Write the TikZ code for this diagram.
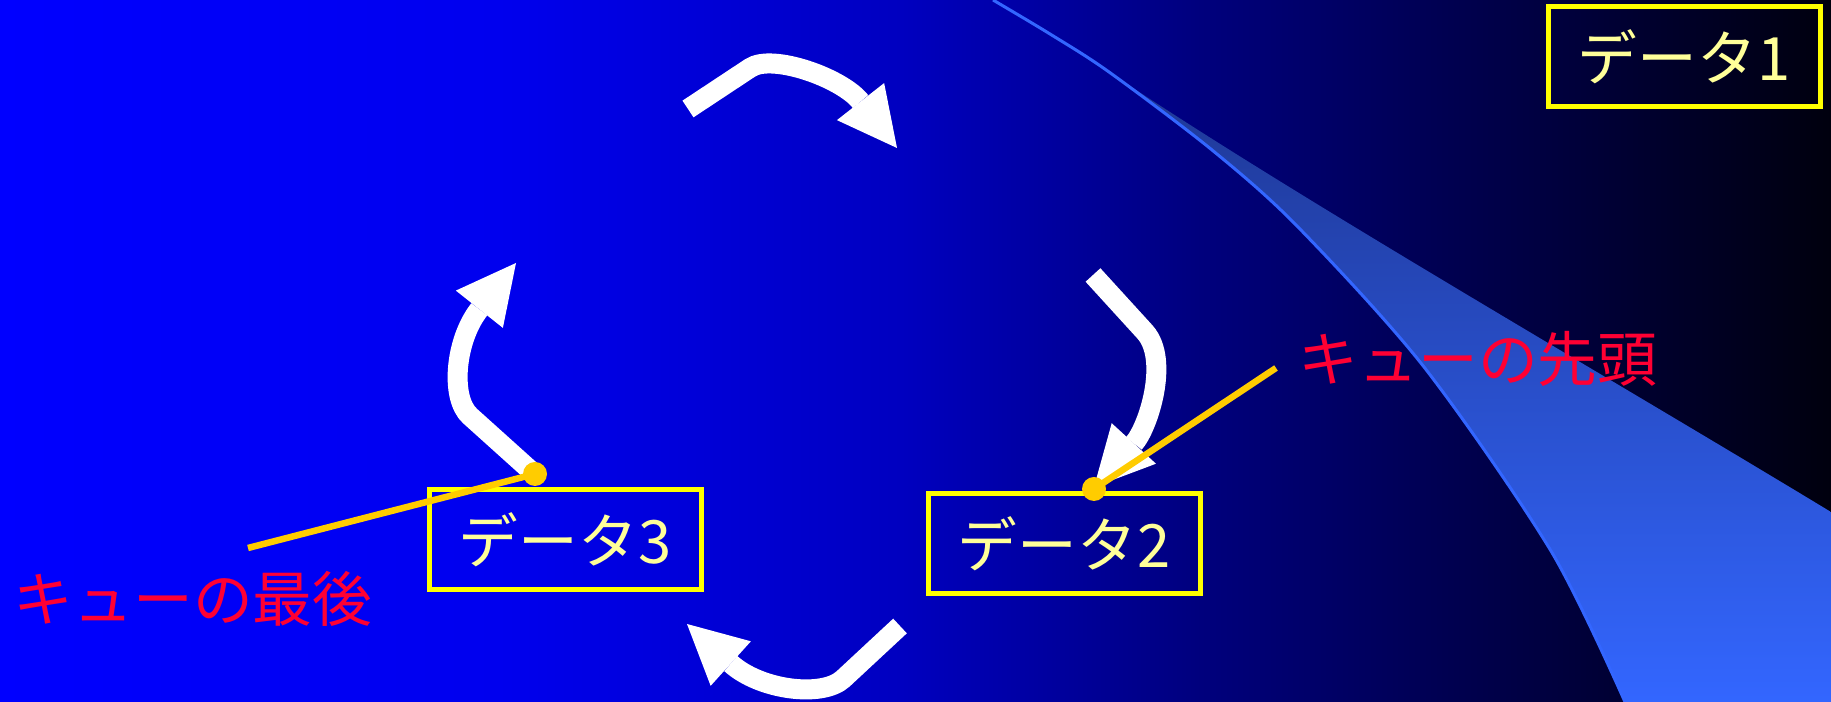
\documentclass[tikz,border=0pt]{standalone}
\usepackage{fontspec}
\newfontfamily\jpfont{Noto Sans CJK JP}
\usepackage{xcolor}
\usepackage{tikz}
\usetikzlibrary{arrows.meta}
\definecolor{boxyellow}{RGB}{255,255,0}
\definecolor{paleyellow}{RGB}{255,255,153}
\definecolor{alertred}{RGB}{255,0,51}
\definecolor{pinorange}{RGB}{255,204,0}
\definecolor{swooshblue}{RGB}{51,102,255}
\definecolor{swooshdark}{RGB}{28,50,136}
\definecolor{bga}{RGB}{0,0,255}
\definecolor{bgb}{RGB}{0,0,238}
\definecolor{bgc}{RGB}{0,0,192}
\definecolor{bgd}{RGB}{0,0,125}
\definecolor{bge}{RGB}{0,0,80}
\definecolor{bgf}{RGB}{0,0,14}
\pgfdeclarehorizontalshading{bgfade}{100bp}{color(0bp)=(bga); color(25bp)=(bga); color(38.6bp)=(bgb); color(49.6bp)=(bgc); color(57.8bp)=(bgd); color(64.6bp)=(bge); color(75bp)=(bgf); color(100bp)=(bgf)}

\begin{document}
\begin{tikzpicture}[x=0.1mm,y=-0.1mm,
    databox/.style={rectangle,draw=boxyellow,line width=0.5mm,minimum width=27.2mm,minimum height=10mm,inner sep=0pt,text=paleyellow,font=\jpfont\fontsize{17}{20}\selectfont},
    note/.style={inner sep=0pt,text=alertred,font=\jpfont\fontsize{17}{20}\selectfont},
    cyclearrow/.style={white,line width=2mm,-{Triangle[length=5.9mm,width=6mm,line width=0pt]}},
    pointer/.style={pinorange,line width=0.65mm},
    pin/.style={circle,fill=pinorange,inner sep=0pt,minimum size=2.4mm}
  ]
    \shade[shading=bgfade] (0,0) rectangle (1831,702);
    \useasboundingbox (0,0) rectangle (1831,702);
    \clip (0,0) rectangle (1831,702);
    \shade[top color=swooshdark,bottom color=swooshblue] plot[smooth] coordinates {(993,0) (1050,34) (1109,72) (1212,150) (1297,226) (1424,367) (1551,551) (1625,702)} -- (1831,702) -- (1831,512) .. controls (1600,372) and (1300,200) .. (1109,72) -- cycle;
    \draw[swooshblue,line width=0.3mm] plot[smooth] coordinates {(993,0) (1050,34) (1109,72) (1212,150) (1297,226) (1424,367) (1551,551) (1625,702)};
    \node[databox] (d1) at (1684,56.5) {データ1};
    \node[databox] (d3) at (565,539.5) {データ3};
    \node[databox] (d2) at (1064,544) {データ2};
    \draw[cyclearrow] (688,109) -- (750,68) .. controls (772,53) and (842,78) .. (897,148);
    \draw[cyclearrow] (1093,275) -- (1145,332) .. controls (1170,360) and (1148,428) .. (1094,487);
    \draw[cyclearrow] (900,626) -- (843,679) .. controls (822,698) and (760,690) .. (687,624);
    \draw[cyclearrow] (530,470) -- (470,416) .. controls (450,398) and (455,340) .. (516,263);
    \node[note] (head) at (1478,359) {キューの先頭};
    \node[note] (tail) at (193,599) {キューの最後};
    \coordinate (headend) at (1276,368);
    \coordinate (tailend) at (248,548);
    \node[pin] (headpin) at (1094,489) {};
    \node[pin] (tailpin) at (535,474) {};
    \draw[pointer] (headend) -- (headpin.center);
    \draw[pointer] (tailend) -- (tailpin.center);
  \end{tikzpicture}
\end{document}
